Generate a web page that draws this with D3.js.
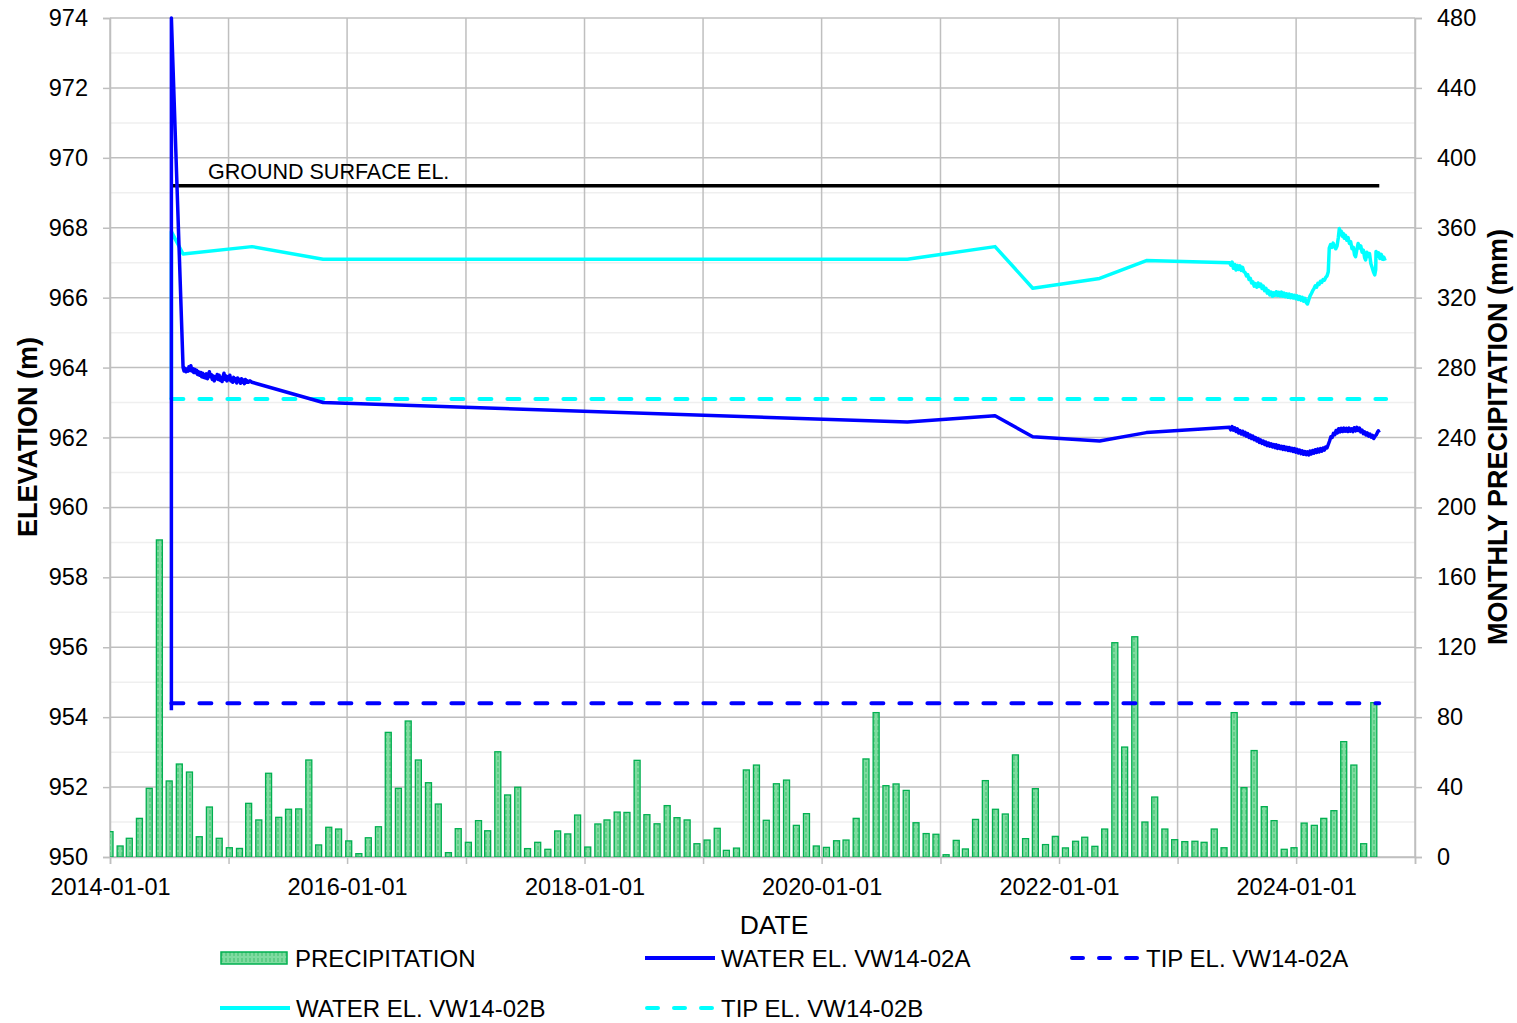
<!DOCTYPE html>
<html>
<head>
<meta charset="utf-8">
<script src="https://cdn.jsdelivr.net/npm/d3@7"></script>
<style>
  html, body { margin: 0; padding: 0; background: #fff; }
  svg { display: block; font-family: "Liberation Sans", Arial, sans-serif; }
</style>
</head>
<body>
<svg id="chart" width="1517" height="1023"></svg>
<script>
// ---------------- DATA ----------------
// Monthly precipitation (mm), Jan 2014 .. Aug 2024
const precipStart = "2014-01-01";
const precipMonthly = [
  14.5, 6.3, 10.7, 22.1, 39.3, 181.4, 43.5, 53.2, 48.6, 11.6, 28.6, 10.7,
  5.3, 4.9, 30.7, 21.2, 47.9, 22.7, 27.3, 27.5, 55.5, 6.9, 17.0, 16.0,
  9.2, 1.9, 11.0, 17.3, 71.3, 39.3, 77.8, 55.5, 42.5, 30.3, 2.5, 16.2,
  8.4, 20.8, 15.0, 60.2, 35.5, 39.9, 4.8, 8.4, 4.4, 14.9, 13.2, 24.0,
  5.7, 18.9, 21.2, 25.7, 25.5, 55.3, 24.2, 19.0, 29.4, 22.5, 21.2, 7.6,
  9.7, 16.4, 3.8, 5.1, 49.8, 52.6, 21.0, 41.9, 44.0, 18.1, 24.8, 6.3,
  5.5, 9.3, 9.7, 22.1, 56.1, 82.6, 40.8, 41.8, 38.1, 19.6, 13.4, 13.0,
  1.3, 9.5, 4.6, 21.5, 43.7, 27.3, 24.6, 58.4, 10.5, 39.1, 7.1, 11.8,
  5.2, 9.0, 11.3, 6.1, 16.0, 122.6, 62.9, 126.0, 20.0, 34.3, 16.0, 9.9,
  8.8, 9.0, 8.4, 16.0, 5.3, 82.6, 39.7, 60.9, 28.8, 20.8, 4.4, 5.3,
  19.4, 18.1, 22.1, 26.5, 66.0, 52.6, 7.6, 88.3
];

// Water elevation VW14-02A (m)
const waterA = [
  ["2014-07-09", 954.2], ["2014-07-09", 974.0],
  ["2014-08-14", 964.00], ["2014-08-17", 963.90], ["2014-08-20", 963.98], ["2014-08-23", 963.88],
  ["2014-08-26", 963.96], ["2014-08-29", 963.90], ["2014-09-01", 964.02], ["2014-09-04", 963.92],
  ["2014-09-07", 964.05], ["2014-09-10", 963.90], ["2014-09-13", 963.97], ["2014-09-16", 963.86],
  ["2014-09-19", 963.95], ["2014-09-22", 963.85], ["2014-09-25", 963.92], ["2014-09-28", 963.80],
  ["2014-10-01", 963.88], ["2014-10-04", 963.78], ["2014-10-07", 963.86], ["2014-10-10", 963.74],
  ["2014-10-13", 963.84], ["2014-10-16", 963.72], ["2014-10-19", 963.80], ["2014-10-22", 963.70],
  ["2014-10-25", 963.82], ["2014-10-28", 963.68], ["2014-10-31", 963.78], ["2014-11-03", 963.88],
  ["2014-11-06", 963.74], ["2014-11-09", 963.80], ["2014-11-12", 963.66], ["2014-11-15", 963.76],
  ["2014-11-18", 963.62], ["2014-11-21", 963.74], ["2014-11-24", 963.68], ["2014-11-27", 963.80],
  ["2014-11-30", 963.66], ["2014-12-03", 963.78], ["2014-12-06", 963.64], ["2014-12-09", 963.72],
  ["2014-12-12", 963.60], ["2014-12-15", 963.74], ["2014-12-18", 963.84], ["2014-12-21", 963.66],
  ["2014-12-24", 963.76], ["2014-12-27", 963.62], ["2014-12-30", 963.74], ["2015-01-02", 963.66],
  ["2015-01-05", 963.78], ["2015-01-08", 963.62], ["2015-01-11", 963.70], ["2015-01-14", 963.58],
  ["2015-01-17", 963.72], ["2015-01-20", 963.62], ["2015-01-23", 963.68], ["2015-01-26", 963.56],
  ["2015-01-29", 963.70], ["2015-02-01", 963.60], ["2015-02-04", 963.66], ["2015-02-07", 963.55],
  ["2015-02-10", 963.68], ["2015-02-13", 963.58], ["2015-02-16", 963.64], ["2015-02-19", 963.54],
  ["2015-02-22", 963.66], ["2015-02-25", 963.58], ["2015-02-28", 963.62], ["2015-03-03", 963.58],
  ["2015-03-08", 963.62], ["2015-03-14", 963.58],
  ["2015-10-19", 963.00], ["2020-09-21", 962.44], ["2021-06-18", 962.62], ["2021-10-12", 962.02],
  ["2022-05-06", 961.90], ["2022-09-27", 962.14], ["2023-06-10", 962.29],
  ["2023-06-14", 962.22], ["2023-06-18", 962.31], ["2023-06-22", 962.21], ["2023-06-26", 962.28],
  ["2023-06-30", 962.17], ["2023-07-04", 962.25], ["2023-07-08", 962.13], ["2023-07-12", 962.20],
  ["2023-07-16", 962.10], ["2023-07-20", 962.18], ["2023-07-24", 962.07], ["2023-07-28", 962.15],
  ["2023-08-01", 962.04], ["2023-08-05", 962.11], ["2023-08-09", 962.00], ["2023-08-13", 962.07],
  ["2023-08-17", 961.97], ["2023-08-21", 962.04], ["2023-08-25", 961.94], ["2023-08-29", 962.00],
  ["2023-09-02", 961.90], ["2023-09-06", 961.97], ["2023-09-10", 961.86], ["2023-09-14", 961.93],
  ["2023-09-18", 961.83], ["2023-09-22", 961.90], ["2023-09-26", 961.80], ["2023-09-30", 961.87],
  ["2023-10-04", 961.77], ["2023-10-08", 961.84], ["2023-10-12", 961.75], ["2023-10-16", 961.82],
  ["2023-10-20", 961.73], ["2023-10-24", 961.80], ["2023-10-28", 961.71], ["2023-11-01", 961.79],
  ["2023-11-05", 961.69], ["2023-11-09", 961.77], ["2023-11-13", 961.68], ["2023-11-17", 961.75],
  ["2023-11-21", 961.66], ["2023-11-25", 961.74], ["2023-11-29", 961.65], ["2023-12-03", 961.72],
  ["2023-12-07", 961.63], ["2023-12-11", 961.71], ["2023-12-15", 961.62], ["2023-12-19", 961.69],
  ["2023-12-23", 961.60], ["2023-12-27", 961.68], ["2023-12-31", 961.58], ["2024-01-04", 961.66],
  ["2024-01-08", 961.56], ["2024-01-12", 961.64], ["2024-01-16", 961.54], ["2024-01-20", 961.62],
  ["2024-01-24", 961.52], ["2024-01-28", 961.60], ["2024-02-01", 961.51], ["2024-02-05", 961.59],
  ["2024-02-09", 961.50], ["2024-02-13", 961.61], ["2024-02-17", 961.53], ["2024-02-21", 961.63],
  ["2024-02-25", 961.55], ["2024-02-29", 961.65], ["2024-03-04", 961.57], ["2024-03-08", 961.67],
  ["2024-03-12", 961.59], ["2024-03-16", 961.68], ["2024-03-20", 961.61], ["2024-03-24", 961.70],
  ["2024-03-28", 961.64], ["2024-04-01", 961.73], ["2024-04-05", 961.70], ["2024-04-09", 961.80],
  ["2024-04-13", 961.90], ["2024-04-17", 962.02], ["2024-04-21", 962.00], ["2024-04-25", 962.12],
  ["2024-04-29", 962.08], ["2024-05-03", 962.20], ["2024-05-07", 962.13], ["2024-05-11", 962.25],
  ["2024-05-15", 962.16], ["2024-05-19", 962.26], ["2024-05-23", 962.17], ["2024-05-27", 962.27],
  ["2024-05-31", 962.18], ["2024-06-04", 962.26], ["2024-06-08", 962.17], ["2024-06-12", 962.27],
  ["2024-06-16", 962.18], ["2024-06-20", 962.25], ["2024-06-24", 962.17], ["2024-06-28", 962.28],
  ["2024-07-02", 962.19], ["2024-07-06", 962.29], ["2024-07-10", 962.20], ["2024-07-14", 962.27],
  ["2024-07-18", 962.16], ["2024-07-22", 962.21], ["2024-07-26", 962.11], ["2024-07-30", 962.16],
  ["2024-08-03", 962.07], ["2024-08-07", 962.13], ["2024-08-11", 962.04], ["2024-08-15", 962.10],
  ["2024-08-19", 962.01], ["2024-08-23", 962.06], ["2024-08-27", 961.97], ["2024-08-31", 962.04],
  ["2024-09-04", 962.08], ["2024-09-08", 962.16], ["2024-09-10", 962.19], ["2024-09-13", 962.14]
];

// Water elevation VW14-02B (m)
const waterB = [
  ["2014-07-09", 963.10], ["2014-07-09", 967.89], ["2014-08-14", 967.25], ["2015-03-14", 967.46],
  ["2015-10-19", 967.10], ["2020-09-21", 967.10], ["2021-06-18", 967.46], ["2021-10-12", 966.27],
  ["2022-05-06", 966.55], ["2022-09-27", 967.06], ["2023-06-10", 967.00],
  ["2023-06-14", 966.93], ["2023-06-18", 967.02], ["2023-06-22", 966.84], ["2023-06-26", 966.95],
  ["2023-06-30", 966.79], ["2023-07-04", 966.92], ["2023-07-08", 966.81], ["2023-07-12", 966.91],
  ["2023-07-16", 966.78], ["2023-07-20", 966.87], ["2023-07-24", 966.74], ["2023-07-28", 966.72],
  ["2023-08-01", 966.62], ["2023-08-05", 966.66], ["2023-08-09", 966.52], ["2023-08-13", 966.55],
  ["2023-08-17", 966.42], ["2023-08-21", 966.45], ["2023-08-25", 966.33], ["2023-08-29", 966.40],
  ["2023-09-02", 966.30], ["2023-09-06", 966.42], ["2023-09-10", 966.32], ["2023-09-14", 966.39],
  ["2023-09-18", 966.26], ["2023-09-22", 966.33], ["2023-09-26", 966.20], ["2023-09-30", 966.27],
  ["2023-10-04", 966.13], ["2023-10-08", 966.20], ["2023-10-12", 966.08], ["2023-10-16", 966.16],
  ["2023-10-20", 966.04], ["2023-10-24", 966.14], ["2023-10-28", 966.07], ["2023-11-01", 966.17],
  ["2023-11-05", 966.06], ["2023-11-09", 966.15], ["2023-11-13", 966.05], ["2023-11-17", 966.16],
  ["2023-11-21", 966.04], ["2023-11-25", 966.13], ["2023-11-29", 966.03], ["2023-12-03", 966.11],
  ["2023-12-07", 966.01], ["2023-12-11", 966.10], ["2023-12-15", 966.00], ["2023-12-19", 966.08],
  ["2023-12-23", 965.99], ["2023-12-27", 966.07], ["2023-12-31", 965.97], ["2024-01-04", 966.05],
  ["2024-01-08", 965.95], ["2024-01-12", 966.03], ["2024-01-16", 965.93], ["2024-01-20", 966.01],
  ["2024-01-24", 965.90], ["2024-01-28", 965.98], ["2024-02-01", 965.86], ["2024-02-05", 965.82],
  ["2024-02-09", 965.94], ["2024-02-13", 966.05], ["2024-02-17", 966.12], ["2024-02-21", 966.20],
  ["2024-02-25", 966.26], ["2024-02-29", 966.34], ["2024-03-04", 966.30], ["2024-03-08", 966.41],
  ["2024-03-12", 966.38], ["2024-03-16", 966.47], ["2024-03-20", 966.44], ["2024-03-24", 966.52],
  ["2024-03-28", 966.50], ["2024-04-01", 966.58], ["2024-04-05", 966.62], ["2024-04-09", 966.74],
  ["2024-04-12", 967.42], ["2024-04-16", 967.52], ["2024-04-20", 967.44], ["2024-04-24", 967.56],
  ["2024-04-28", 967.46], ["2024-05-02", 967.40], ["2024-05-06", 967.48], ["2024-05-10", 967.72],
  ["2024-05-13", 967.98], ["2024-05-16", 967.82], ["2024-05-19", 967.90], ["2024-05-22", 967.76],
  ["2024-05-25", 967.84], ["2024-05-28", 967.70], ["2024-06-01", 967.78], ["2024-06-05", 967.64],
  ["2024-06-09", 967.72], ["2024-06-13", 967.55], ["2024-06-17", 967.60], ["2024-06-21", 967.40],
  ["2024-06-25", 967.44], ["2024-06-29", 967.22], ["2024-07-02", 967.17], ["2024-07-06", 967.38],
  ["2024-07-10", 967.55], ["2024-07-14", 967.42], ["2024-07-18", 967.48], ["2024-07-22", 967.30],
  ["2024-07-26", 967.36], ["2024-07-30", 967.14], ["2024-08-02", 967.08], ["2024-08-06", 967.30],
  ["2024-08-10", 967.18], ["2024-08-14", 967.26], ["2024-08-18", 966.98], ["2024-08-22", 966.86],
  ["2024-08-26", 966.74], ["2024-08-30", 966.65], ["2024-09-02", 966.80], ["2024-09-03", 967.32],
  ["2024-09-07", 967.18], ["2024-09-11", 967.28], ["2024-09-15", 967.12], ["2024-09-19", 967.24],
  ["2024-09-23", 967.10], ["2024-09-27", 967.16], ["2024-10-01", 967.06]
];

const tipA = [["2014-07-09", 954.4], ["2024-09-13", 954.4]];
const tipB = [["2014-07-09", 963.1], ["2024-10-04", 963.1]];
const groundSurface = [["2014-07-09", 969.2], ["2024-09-13", 969.2]];
const groundLabel = "GROUND SURFACE EL.";

const elevTicks = d3.range(950, 975, 2);
const elevMinor = d3.range(951, 974, 2);
const precipTicks = d3.range(0, 481, 40);

const legendItems = [
  { label: "PRECIPITATION", type: "bar" },
  { label: "WATER EL. VW14-02A", type: "line", color: "#0000ff", dash: null },
  { label: "TIP EL. VW14-02A", type: "line", color: "#0000ff", dash: "11,16" },
  { label: "WATER EL. VW14-02B", type: "line", color: "#00ffff", dash: null },
  { label: "TIP EL. VW14-02B", type: "line", color: "#00ffff", dash: "11,16" }
];

// ---------------- LAYOUT ----------------
const L = 110, R = 1415, T = 18, B = 857;
const parse = d3.utcParse("%Y-%m-%d");
const svg = d3.select("#chart");

const x = d3.scaleUtc().domain([parse("2014-01-01"), parse("2025-01-01")]).range([L, R]);
// secondary (hidden) date axis used by the precipitation columns
const xBar = d3.scaleUtc().domain([parse("2014-01-01"), parse("2024-12-05")]).range([L, R]);
const yL = d3.scaleLinear().domain([950, 974]).range([B, T]);
const yR = d3.scaleLinear().domain([0, 480]).range([B, T]);

const GRID = "#bfbfbf";

svg.append("defs").append("clipPath").attr("id", "plotclip")
  .append("rect").attr("x", L).attr("y", T - 2).attr("width", R - L).attr("height", B - T + 2);

const pat = svg.select("defs").append("pattern").attr("id", "barpat")
  .attr("patternUnits", "userSpaceOnUse").attr("width", 4).attr("height", 6);
pat.append("rect").attr("width", 4).attr("height", 6).attr("fill", "#7fdba0");
pat.append("rect").attr("x", 1.5).attr("width", 1).attr("height", 4).attr("fill", "#3fbf6f");

// minor gridlines
svg.append("g").selectAll("line").data(elevMinor).join("line")
  .attr("x1", L).attr("x2", R).attr("y1", d => yL(d)).attr("y2", d => yL(d))
  .attr("stroke", "#efefef").attr("stroke-width", 1.5);
// major gridlines
svg.append("g").selectAll("line").data(elevTicks).join("line")
  .attr("x1", L).attr("x2", R).attr("y1", d => yL(d)).attr("y2", d => yL(d))
  .attr("stroke", GRID).attr("stroke-width", 1.5);
const years = d3.utcYear.range(parse("2014-01-01"), parse("2025-01-02"));
svg.append("g").selectAll("line").data(years).join("line")
  .attr("x1", d => x(d)).attr("x2", d => x(d)).attr("y1", T).attr("y2", B)
  .attr("stroke", GRID).attr("stroke-width", 1.5);

// axes
const fontTick = 23.5;
const gL = svg.append("g").attr("transform", `translate(${L},0)`)
  .call(d3.axisLeft(yL).tickValues(elevTicks).tickSize(7).tickPadding(15).tickFormat(d3.format("d")));
const gR = svg.append("g").attr("transform", `translate(${R},0)`)
  .call(d3.axisRight(yR).tickValues(precipTicks).tickSize(7).tickPadding(15).tickFormat(d3.format("d")));
const gB = svg.append("g").attr("transform", `translate(0,${B})`)
  .call(d3.axisBottom(x).tickValues(years).tickSize(7).tickPadding(14)
    .tickFormat(d => d.getUTCFullYear() % 2 === 0 ? d3.utcFormat("%Y-%m-%d")(d) : ""));
[gL, gR, gB].forEach(g => {
  g.select(".domain").attr("stroke", GRID).attr("stroke-width", 1.5);
  g.selectAll(".tick line").attr("stroke", GRID).attr("stroke-width", 1.5);
  g.selectAll(".tick text").attr("fill", "#000").style("font-size", fontTick + "px")
    .style("font-family", "'Liberation Sans', Arial, sans-serif");
});

// plot content
const plot = svg.append("g").attr("clip-path", "url(#plotclip)");

const barData = precipMonthly.map((v, i) => ({ date: d3.utcMonth.offset(parse(precipStart), i), v }));
const bw = 6;
plot.append("g").selectAll("rect").data(barData).join("rect")
  .attr("x", d => xBar(d.date) - bw / 2).attr("width", bw)
  .attr("y", d => yR(d.v)).attr("height", d => yR(0) - yR(d.v))
  .attr("fill", "url(#barpat)").attr("stroke", "#00b050").attr("stroke-width", 1.3);

const line = d3.line().x(d => x(parse(d[0]))).y(d => yL(d[1]));

function drawLine(data, color, dash, width) {
  const p = plot.append("path").datum(data).attr("d", line)
    .attr("fill", "none").attr("stroke", color).attr("stroke-width", width)
    .attr("stroke-linejoin", "round");
  if (dash) p.attr("stroke-dasharray", dash).attr("stroke-linecap", "round");
  return p;
}
drawLine(groundSurface, "#000000", null, 3.5);
drawLine(tipB, "#00ffff", "12,16", 4);
drawLine(tipA, "#0000ff", "12,16", 4);
drawLine(waterB, "#00ffff", null, 3.5);
drawLine(waterA, "#0000ff", null, 3.5);

svg.append("text").attr("x", 208).attr("y", 179).text(groundLabel)
  .style("font-size", "21.5px").attr("fill", "#000");

// axis titles
svg.append("text").attr("transform", `translate(37,437) rotate(-90)`)
  .attr("text-anchor", "middle").style("font-size", "27px").style("font-weight", "bold")
  .text("ELEVATION (m)");
svg.append("text").attr("transform", `translate(1507,437) rotate(-90)`)
  .attr("text-anchor", "middle").style("font-size", "27px").style("font-weight", "bold")
  .text("MONTHLY PRECIPITATION (mm)");
svg.append("text").attr("x", 774).attr("y", 934).attr("text-anchor", "middle")
  .style("font-size", "26.5px").text("DATE");

// legend
const legendPos = [
  { x: 220, y: 958 }, { x: 645, y: 958 }, { x: 1070, y: 958 },
  { x: 220, y: 1008 }, { x: 645, y: 1008 }
];
const lg = svg.append("g");
legendItems.forEach((it, i) => {
  const p = legendPos[i];
  const g = lg.append("g").attr("transform", `translate(${p.x},${p.y})`);
  if (it.type === "bar") {
    g.append("rect").attr("x", 1).attr("y", -6).attr("width", 66).attr("height", 12)
      .attr("fill", "url(#barpat)").attr("stroke", "#00b050").attr("stroke-width", 1.5);
  } else {
    const ln = g.append("line").attr("x1", it.dash ? 2 : 0).attr("x2", it.dash ? 70 : 70).attr("y1", 0).attr("y2", 0)
      .attr("stroke", it.color).attr("stroke-width", 4);
    if (it.dash) ln.attr("stroke-dasharray", it.dash).attr("stroke-linecap", "round");
  }
  g.append("text").attr("x", it.type === "bar" ? 75 : 76).attr("y", 8.5)
    .style("font-size", "24px").text(it.label);
});
</script>
</body>
</html>
